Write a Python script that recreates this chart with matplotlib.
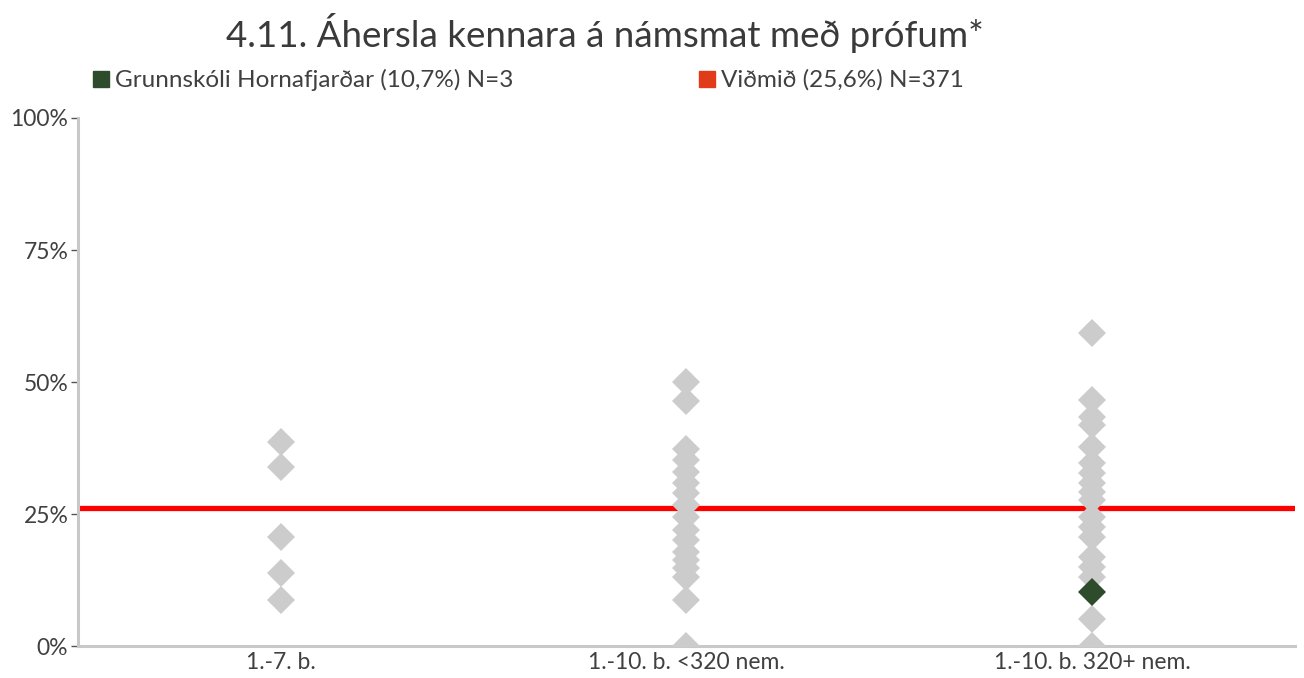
import numpy as np
import matplotlib
matplotlib.use("Agg")
import matplotlib.pyplot as plt
from matplotlib.lines import Line2D
from matplotlib.ticker import FuncFormatter

plt.rcParams['font.family'] = ['Lato', 'DejaVu Sans']

categories = ["1.-7. b.", "1.-10. b. <320 nem.", "1.-10. b. 320+ nem."]
col1 = [38.6, 33.9, 20.6, 13.8, 8.7]
col2 = [50.1, 46.5, 37.4, 35.2, 33.0, 30.9, 29.0, 26.7, 24.5, 22.0, 20.1,
        17.9, 16.3, 14.8, 13.1, 8.7, 0.0]
col3 = [59.2, 46.6, 43.4, 41.9, 37.7, 34.6, 32.7, 30.8, 29.2, 27.7, 24.5,
        22.6, 20.7, 16.9, 15.0, 13.1, 5.2, 0.0]
school_cat = 2
school_val = 10.3
benchmark = 26.2
yticks = [0, 25, 50, 75, 100]

title = "4.11. Áhersla kennara á námsmat með prófum*"
legend_school = "Grunnskóli Hornafjarðar (10,7%) N=3"
legend_bench = "Viðmið (25,6%) N=371"

grey = "#cccccc"
green = "#2e4b2c"
red = "#ff0000"

fig = plt.figure(figsize=(13.04, 6.78), dpi=100)
ax = fig.add_axes([0.0598, 0.047, 0.9332, 0.779])

for i, vals in enumerate([col1, col2, col3]):
    ax.plot([i] * len(vals), vals, linestyle='none', marker='D', markersize=14,
            color=grey, markeredgewidth=0, zorder=3)

ax.axhline(benchmark, color=red, linewidth=3.8, zorder=2)
ax.plot([school_cat], [school_val], linestyle='none', marker='D', markersize=14,
        color=green, markeredgewidth=0, zorder=4)

ax.set_xlim(-0.5, 2.5)
ax.set_ylim(0, 100)
ax.set_xticks(range(len(categories)))
ax.set_xticklabels(categories)
ax.set_yticks(yticks)
ax.yaxis.set_major_formatter(FuncFormatter(lambda v, p: f"{v:.0f}%"))
ax.tick_params(axis='x', length=0, labelsize=16.5, colors='#404040', pad=4)
ax.tick_params(axis='y', length=5, width=1, color='#555555', labelsize=16.5,
               colors='#404040', pad=2)
for s in ['top', 'right']:
    ax.spines[s].set_visible(False)
for s in ['left', 'bottom']:
    ax.spines[s].set_color('#c8c8c8')
    ax.spines[s].set_linewidth(2.2)

fig.text(0.464, 0.952, title, ha='center', va='center', fontsize=26.5,
         fontweight='normal', color='#3a3a3a')

h1 = Line2D([], [], linestyle='none', marker='s', markersize=12, color=green)
h2 = Line2D([], [], linestyle='none', marker='s', markersize=12, color='#e03c1a')
fig.legend([h1, h2], [legend_school, legend_bench], loc='center left',
           bbox_to_anchor=(0.052, 0.882), ncol=2, frameon=False, fontsize=17.5,
           handletextpad=0.15, columnspacing=7.5, handlelength=0.9,
           labelcolor='#404040')

fig.savefig("out.png", dpi=100)
